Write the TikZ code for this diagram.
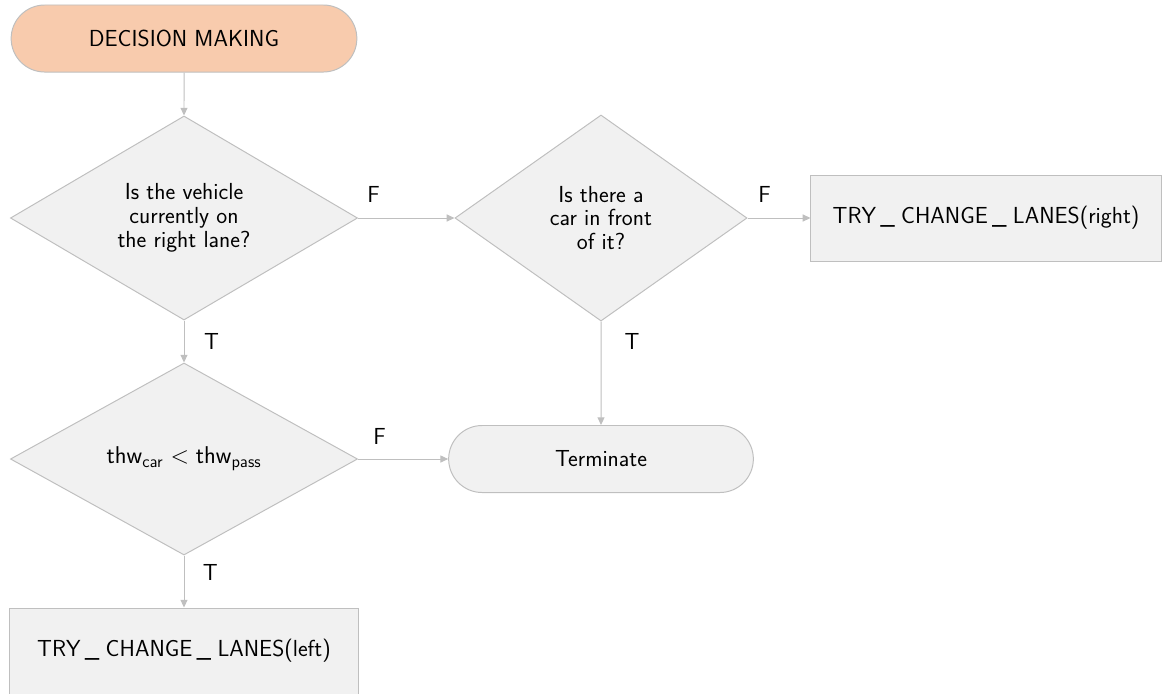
\documentclass[tikz,border=0pt]{standalone}
\usetikzlibrary{shapes.geometric,shapes.misc,arrows.meta}
\definecolor{peach}{HTML}{F8CBAD}
\definecolor{shapefill}{HTML}{F1F1F1}
\definecolor{edgegray}{HTML}{BFBFBF}
\newcommand{\flowfont}{\sffamily\fontsize{16.5}{17}\selectfont}
\newcommand{\uscore}{\kern3pt\_\kern4.5pt}
\begin{document}
\begin{tikzpicture}[x=0.025cm, y=-0.025cm,
  term/.style={rounded rectangle, draw=edgegray, fill=shapefill, line width=0.7pt, minimum height=1.675cm, font=\flowfont},
  decision/.style={diamond, draw=edgegray, fill=shapefill, line width=0.7pt, inner sep=0pt, align=center, font=\flowfont},
  action/.style={rectangle, draw=edgegray, fill=shapefill, line width=0.7pt, minimum height=2.15cm, font=\flowfont},
  flow/.style={draw=edgegray, line width=0.7pt, -{Triangle[length=5.5pt, width=5pt]}},
  lbl/.style={inner sep=0pt, font=\flowfont}]
  \useasboundingbox (0,0) rectangle (1162,693);

  % nodes
  \node[term, fill=peach, minimum width=8.875cm] (start) at (184,38.5) {DECISION MAKING};
  \node[decision, minimum width=8.675cm, minimum height=5.1cm] (lane) at (184,218) {Is the vehicle\\currently on\\the right lane?};
  \node[decision, minimum width=7.3cm, minimum height=5.15cm] (front) at (601,218) {Is there a\\car in front\\of it?};
  \node[action, minimum width=8.75cm] (right) at (986,218) {TRY\uscore CHANGE\uscore LANES(right)};
  \node[decision, minimum width=8.675cm, minimum height=4.8cm] (thw) at (184,459) {$\mathsf{thw}_{\mathsf{car}} < \mathsf{thw}_{\mathsf{pass}}$};
  \node[term, minimum width=7.85cm] (stop) at (601,459) {Terminate};
  \node[action, minimum width=8.7cm] (left) at (184,651) {TRY\uscore CHANGE\uscore LANES(left)};

  % connectors
  \draw[flow] (start) -- (lane);
  \draw[flow] (lane) -- node[lbl, pos=0.16, above=0.38cm] {F} (front);
  \draw[flow] (front) -- node[lbl, pos=0.27, above=0.38cm] {F} (right);
  \draw[flow] (front) -- node[lbl, pos=0.19, right=0.58cm] {T} (stop);
  \draw[flow] (lane) -- node[lbl, pos=0.51, right=0.49cm] {T} (thw);
  \draw[flow] (thw) -- node[lbl, pos=0.24, above=0.36cm] {F} (stop);
  \draw[flow] (thw) -- node[lbl, pos=0.32, right=0.46cm] {T} (left);
\end{tikzpicture}
\end{document}
